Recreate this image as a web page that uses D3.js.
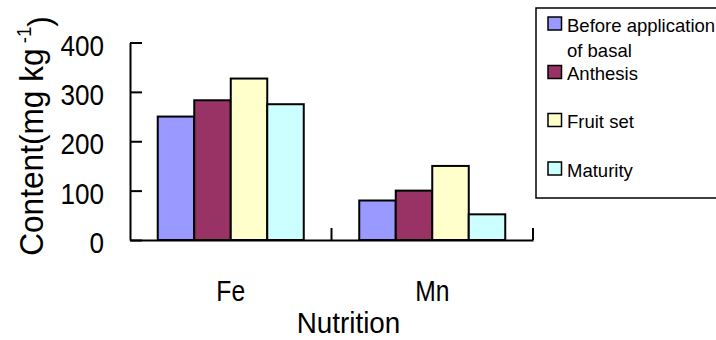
<!DOCTYPE html>
<html>
<head>
<meta charset="utf-8">
<script src="https://cdn.jsdelivr.net/npm/d3@7"></script>
<style>
  html, body { margin: 0; padding: 0; background: #fff; }
  svg { display: block; font-family: "Liberation Sans", Arial, sans-serif; }
</style>
</head>
<body>
<svg id="chart" width="716" height="340"></svg>
<script>
const categories = ["Fe", "Mn"];
const seriesNames = ["Before application of basal", "Anthesis", "Fruit set", "Maturity"];
const legendLines = [["Before application", "of basal"], ["Anthesis"], ["Fruit set"], ["Maturity"]];
const colors = ["#9999FF", "#993366", "#FFFFCC", "#CCFFFF"];
const beforeBasal = [250, 80];
const anthesis = [283, 100];
const fruitSet = [327, 150];
const maturity = [275, 52];
const yTicks = [0, 100, 200, 300, 400];
const values = [beforeBasal, anthesis, fruitSet, maturity];

const svg = d3.select("#chart");
const x0 = 130, x1 = 533, yBottom = 240, yTop = 42.5;

const y = d3.scaleLinear().domain([0, 400]).range([yBottom, yTop]);
const xCat = d3.scaleBand().domain(categories).range([x0, x1]).paddingInner(0).paddingOuter(0);
const xSer = d3.scaleBand().domain(seriesNames).range([0, xCat.bandwidth()]).paddingInner(0).paddingOuter(0.76);

// bars
const data = [];
categories.forEach((c, ci) => seriesNames.forEach((s, si) => data.push({c, s, si, v: values[si][ci]})));
svg.append("g").selectAll("rect").data(data).join("rect")
  .attr("x", d => xCat(d.c) + xSer(d.s))
  .attr("y", d => y(d.v))
  .attr("width", xSer.bandwidth())
  .attr("height", d => y(0) - y(d.v))
  .attr("fill", d => colors[d.si])
  .attr("stroke", "#000")
  .attr("stroke-width", 2);

// y axis
const yAxis = svg.append("g").attr("transform", `translate(${x0},0)`)
  .call(d3.axisLeft(y).tickValues(yTicks).tickSizeInner(-12).tickSizeOuter(0).tickFormat(d3.format("d")));
yAxis.select(".domain").attr("stroke", "#000").attr("stroke-width", 2);
yAxis.selectAll(".tick line").attr("stroke", "#000").attr("stroke-width", 2);
yAxis.selectAll(".tick text")
  .attr("x", null).attr("dy", "0.42em")
  .attr("text-anchor", "end")
  .attr("font-size", 30)
  .attr("font-family", "Liberation Sans, Arial, sans-serif")
  .attr("fill", "#000")
  .attr("transform", "translate(-26,0) scale(0.87,1)");

// x axis
const xAxis = svg.append("g").attr("transform", `translate(0,${yBottom})`)
  .call(d3.axisBottom(xCat).tickSize(0).tickFormat(""));
xAxis.select(".domain").attr("stroke", "#000").attr("stroke-width", 2);
// category boundary ticks (pointing up)
const bounds = [xCat("Mn"), x1];
svg.append("g").selectAll("line").data(bounds).join("line")
  .attr("x1", d => d).attr("x2", d => d)
  .attr("y1", yBottom).attr("y2", yBottom - 12)
  .attr("stroke", "#000").attr("stroke-width", 2);

// category labels
svg.append("g").selectAll("g").data(categories).join("g")
  .attr("transform", d => `translate(${xCat(d) + xCat.bandwidth() / 2},301) scale(0.85,1)`)
  .append("text")
  .attr("text-anchor", "middle").attr("font-size", 29).attr("fill", "#000")
  .text(d => d);

// x title
svg.append("g").attr("transform", "translate(348.5,333) scale(0.96,1)")
  .append("text").attr("text-anchor", "middle").attr("font-size", 29).attr("fill", "#000")
  .text("Nutrition");

// y title
const yt = svg.append("g").attr("transform", "translate(43,136) rotate(-90) scale(0.93,1)")
  .append("text").attr("text-anchor", "middle").attr("font-size", 34).attr("fill", "#000");
yt.append("tspan").text("Content(mg kg");
yt.append("tspan").attr("dy", "-0.6em").attr("font-size", 20).text(" -1");
yt.append("tspan").attr("dy", "0.6em").text(")");

// legend
const lg = svg.append("g");
lg.append("rect").attr("x", 536).attr("y", 8).attr("width", 200).attr("height", 190)
  .attr("fill", "#fff").attr("stroke", "#000").attr("stroke-width", 1.5);
const swTops = [17, 65.5, 113.5, 162];
const items = lg.selectAll("g.item").data(seriesNames).join("g").attr("class", "item");
items.append("rect")
  .attr("x", 548).attr("y", (d, i) => swTops[i]).attr("width", 13.5).attr("height", 13)
  .attr("fill", (d, i) => colors[i]).attr("stroke", "#000").attr("stroke-width", 1.5);
items.each(function(d, i) {
  const t = d3.select(this).append("text")
    .attr("x", 567).attr("y", swTops[i] + 14.5)
    .attr("font-size", 18.5).attr("fill", "#000");
  legendLines[i].forEach((ln, li) => {
    t.append("tspan").attr("x", 567).attr("dy", li === 0 ? 0 : 25).text(ln);
  });
});
</script>
</body>
</html>
